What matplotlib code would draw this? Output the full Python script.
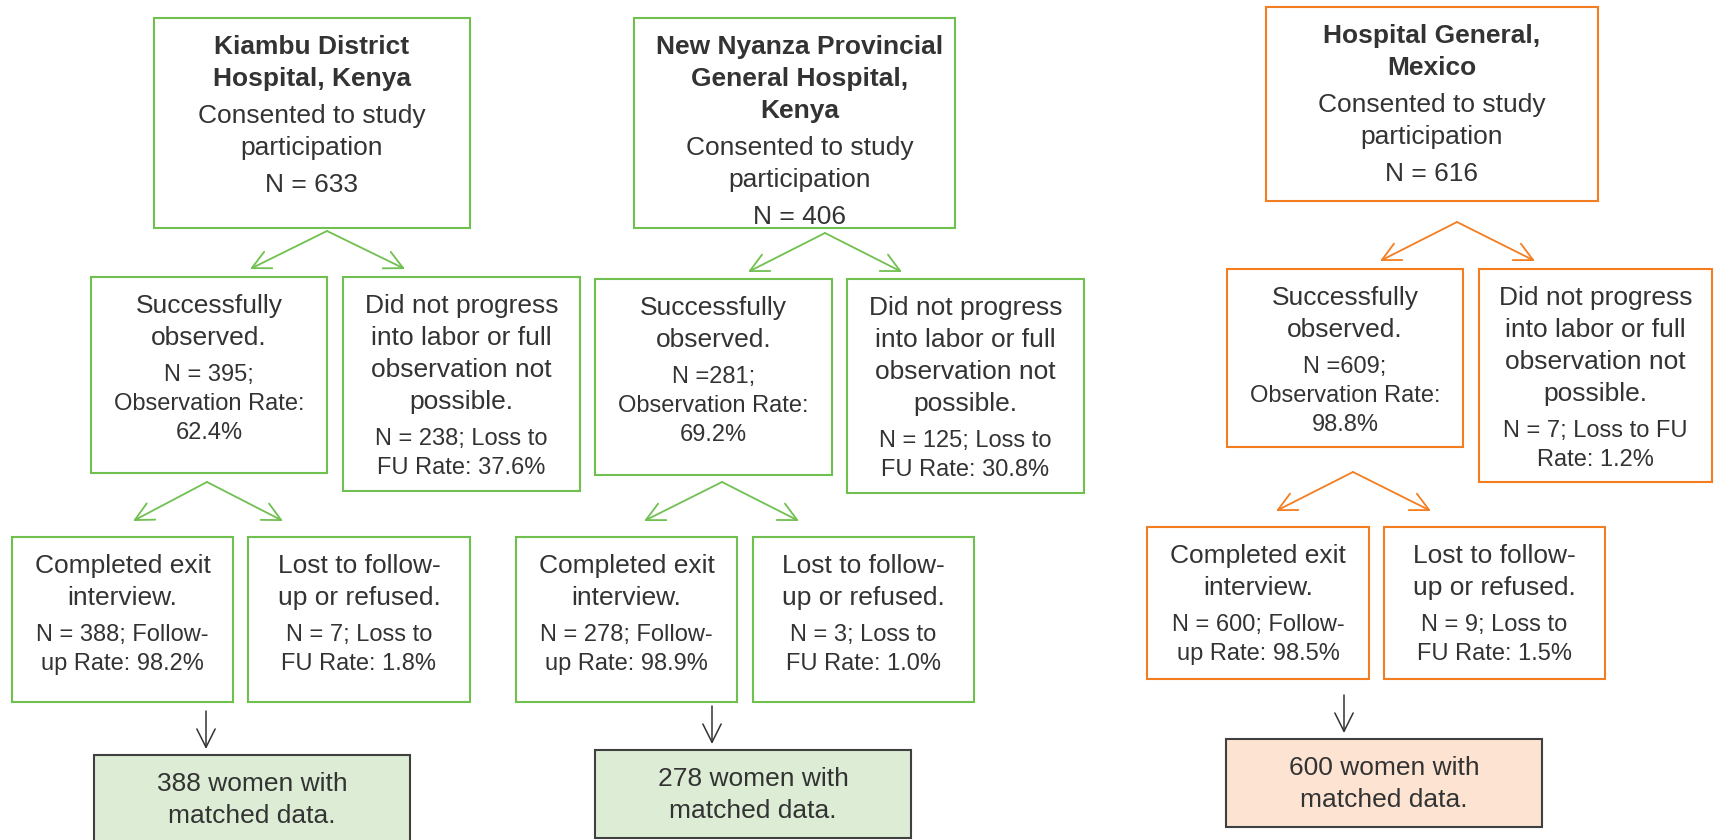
import matplotlib
matplotlib.use("Agg")
import matplotlib.pyplot as plt
from matplotlib.patches import Rectangle

plt.rcParams["font.family"] = ["Liberation Sans", "DejaVu Sans"]

# data
sites = ["Kiambu District\nHospital, Kenya",
         "New Nyanza Provincial\nGeneral Hospital,\nKenya",
         "Hospital General,\nMexico"]
consented = [633, 406, 616]
observed = [395, 281, 609]
obs_rate = [62.4, 69.2, 98.8]
not_observed = [238, 125, 7]
not_obs_rate = [37.6, 30.8, 1.2]
completed = [388, 278, 600]
followup_rate = [98.2, 98.9, 98.5]
lost = [7, 3, 9]
lost_rate = [1.8, 1.0, 1.5]
matched = [388, 278, 600]

# colours per site
edge_col = ["#70c050", "#70c050", "#f47d20"]
fill_col = ["#ddedd5", "#ddedd5", "#fde4d2"]
txt_col = "#333333"

# layout (pixel units, y down): box = (x0, x1, y0, y1)
layout = [
    dict(top=(154, 470, 18, 228), top_cx=None, r2l=(91, 327, 277, 473), r2r=(343, 580, 277, 491),
         r3l=(12, 233, 537, 702), r3r=(248, 470, 537, 702), bot=(94, 410, 755, 845),
         a1=((327, 231), (250, 269), (405, 269)), a2=((207, 482), (133, 521), (283, 521)),
         down=(206, 711, 749)),
    dict(top=(634, 955, 18, 228), top_cx=800, r2l=(595, 832, 279, 475), r2r=(847, 1084, 279, 493),
         r3l=(516, 737, 537, 702), r3r=(753, 974, 537, 702), bot=(595, 911, 750, 838),
         a1=((825, 233), (748, 272), (902, 272)), a2=((722, 482), (644, 521), (799, 521)),
         down=(712, 706, 744)),
    dict(top=(1266, 1598, 7, 201), top_cx=None, r2l=(1227, 1463, 269, 447), r2r=(1479, 1712, 269, 482),
         r3l=(1147, 1369, 527, 679), r3r=(1384, 1605, 527, 679), bot=(1226, 1542, 739, 827),
         a1=((1457, 222), (1380, 261), (1535, 261)), a2=((1353, 472), (1276, 511), (1431, 511)),
         down=(1344, 695, 733)),
]

BIG, SMALL = 19, 17
STEP = {BIG: 32, SMALL: 29}
GAP = 37


def box(ax, b, ec, fc="white", lw=1.5):
    x0, x1, y0, y1 = b
    ax.add_patch(Rectangle((x0, y0), x1 - x0, y1 - y0, fc=fc, ec=ec, lw=lw, zorder=1))


def lines(ax, b, groups, cx=None):
    x0, x1, y0, y1 = b
    if cx is None:
        cx = (x0 + x1) / 2
    y = y0 + 27
    for gi, (txt, size, weight) in enumerate(groups):
        if gi > 0:
            y += GAP
        for li, line in enumerate(txt.split("\n")):
            if li > 0:
                y += STEP[size]
            cap = 0.716 * size * 100 / 72
            ax.text(cx, y + cap / 2, line, ha="center", va="baseline", fontsize=size,
                    fontweight=weight, color=txt_col, zorder=3)


def arrow(ax, p0, p1, col, lw=1.3):
    ax.annotate("", xy=p1, xytext=p0,
                arrowprops=dict(arrowstyle="->,head_length=1.1,head_width=0.55", color=col,
                                lw=lw, shrinkA=0, shrinkB=0, mutation_scale=12), zorder=2)


fig = plt.figure(figsize=(17.15, 8.4), dpi=100)
ax = fig.add_axes([0, 0, 1, 1])
ax.set_xlim(0, 1715)
ax.set_ylim(840, 0)
ax.axis("off")

for i, L in enumerate(layout):
    ec = edge_col[i]
    eq = "N = " if i == 0 else "N ="
    box(ax, L["top"], ec)
    lines(ax, L["top"], [(sites[i], BIG, "bold"),
                         ("Consented to study\nparticipation", BIG, "normal"),
                         ("N = %d" % consented[i], BIG, "normal")], cx=L["top_cx"])
    box(ax, L["r2l"], ec)
    lines(ax, L["r2l"], [("Successfully\nobserved.", BIG, "normal"),
                         ("%s%d;\nObservation Rate:\n%.1f%%" % (eq, observed[i], obs_rate[i]), SMALL, "normal")])
    box(ax, L["r2r"], ec)
    if i < 2:
        det = "N = %d; Loss to\nFU Rate: %.1f%%" % (not_observed[i], not_obs_rate[i])
    else:
        det = "N = %d; Loss to FU\nRate: %.1f%%" % (not_observed[i], not_obs_rate[i])
    lines(ax, L["r2r"], [("Did not progress\ninto labor or full\nobservation not\npossible.", BIG, "normal"),
                         (det, SMALL, "normal")])
    box(ax, L["r3l"], ec)
    lines(ax, L["r3l"], [("Completed exit\ninterview.", BIG, "normal"),
                         ("N = %d; Follow-\nup Rate: %.1f%%" % (completed[i], followup_rate[i]), SMALL, "normal")])
    box(ax, L["r3r"], ec)
    lines(ax, L["r3r"], [("Lost to follow-\nup or refused.", BIG, "normal"),
                         ("N = %d; Loss to\nFU Rate: %.1f%%" % (lost[i], lost_rate[i]), SMALL, "normal")])
    box(ax, L["bot"], "#404040", fc=fill_col[i])
    lines(ax, L["bot"], [("%d women with\nmatched data." % matched[i], BIG, "normal")])

    apex, t1, t2 = L["a1"]
    arrow(ax, apex, t1, ec)
    arrow(ax, apex, t2, ec)
    apex, t1, t2 = L["a2"]
    arrow(ax, apex, t1, ec)
    arrow(ax, apex, t2, ec)
    dx, dy0, dy1 = L["down"]
    arrow(ax, (dx, dy0), (dx, dy1), "#333333", lw=1.1)

fig.savefig("out.png", dpi=100, facecolor="white")
